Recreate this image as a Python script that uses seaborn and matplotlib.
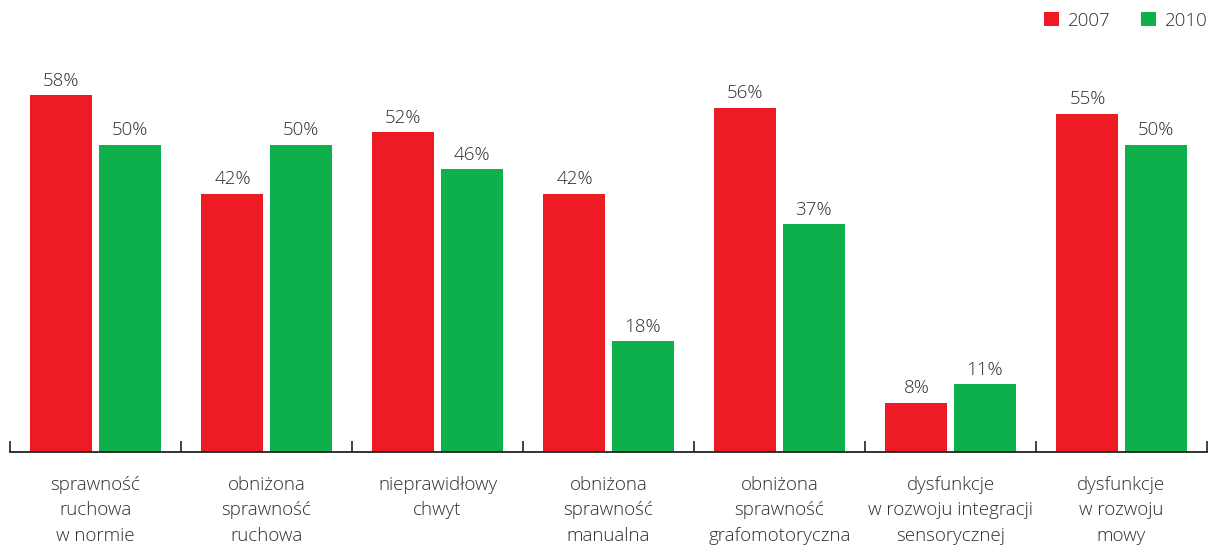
import matplotlib
matplotlib.use("Agg")
import matplotlib.pyplot as plt
import seaborn as sns
import pandas as pd
from matplotlib.patches import Patch

categories = [
    "sprawność\nruchowa\nw normie",
    "obniżona\nsprawność\nruchowa",
    "nieprawidłowy\nchwyt",
    "obniżona\nsprawność\nmanualna",
    "obniżona\nsprawność\ngrafomotoryczna",
    "dysfunkcje\nw rozwoju integracji\nsensorycznej",
    "dysfunkcje\nw rozwoju\nmowy",
]
values_2007 = [58, 42, 52, 42, 56, 8, 55]
values_2010 = [50, 50, 46, 18, 37, 11, 50]
years = ["2007", "2010"]
colors = ["#ED1C24", "#0DB04B"]

sns.set_theme(style="white")
plt.rcParams["font.family"] = ["Open Sans", "DejaVu Sans"]
text_color = "#2e2e2e"
fw = 300
fs = 13.5

df = pd.DataFrame({
    "category": categories * 2,
    "year": [years[0]] * len(categories) + [years[1]] * len(categories),
    "value": values_2007 + values_2010,
})

fig = plt.figure(figsize=(12.08, 5.45), dpi=100)
ax = fig.add_axes([10 / 1208, 93 / 545, 1197 / 1208, 452 / 545])

sns.barplot(data=df, x="category", y="value", hue="year", order=categories,
            hue_order=years, palette=colors, width=0.796, gap=0.089,
            saturation=1, legend=False, ax=ax, errorbar=None, linewidth=0)

for container in ax.containers:
    ax.bar_label(container, labels=[f"{v:.0f}%" for v in container.datavalues],
                 padding=4, fontsize=fs, color=text_color, fontweight=fw)

ax.set_xlim(-0.5, len(categories) - 0.5)
ax.set_ylim(0, 73.5)
ax.set_xlabel("")
ax.set_ylabel("")
ax.set_yticks([])

for s in ["top", "right", "left"]:
    ax.spines[s].set_visible(False)
ax.spines["bottom"].set_color("#222222")
ax.spines["bottom"].set_linewidth(1.3)

ax.set_xticks([i - 0.5 for i in range(len(categories) + 1)])
ax.set_xticklabels([])
ax.tick_params(axis="x", which="major", direction="in", length=8, width=1.2,
               color="#222222", bottom=True)
ax.set_xticks(range(len(categories)), minor=True)
ax.set_xticklabels(categories, minor=True, fontsize=fs, color=text_color,
                   linespacing=1.55, va="top", fontweight=fw)
ax.tick_params(axis="x", which="minor", length=0, pad=17)

handles = [Patch(facecolor=c, edgecolor="none") for c in colors]
fig.legend(handles, years, loc="upper right",
           bbox_to_anchor=(1211 / 1208, 1 - 8 / 545),
           ncol=2, frameon=False, prop={"size": fs, "weight": fw},
           handlelength=0.8, handleheight=0.8, handletextpad=0.48,
           columnspacing=1.6, labelcolor=text_color, borderaxespad=0.0,
           borderpad=0.2)

fig.savefig("out.png", dpi=100)
